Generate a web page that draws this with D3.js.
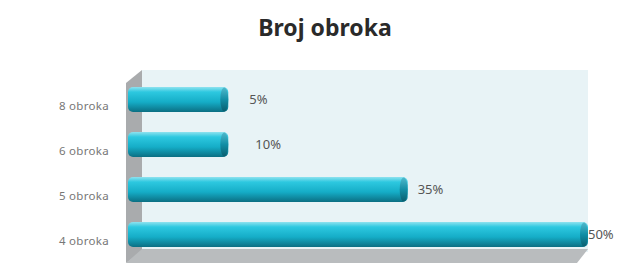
<!DOCTYPE html>
<html>
<head>
<meta charset="utf-8">
<script src="https://cdn.jsdelivr.net/npm/d3@7"></script>
<style>
  body { margin: 0; background: #fff; }
  svg { display: block; }
</style>
</head>
<body>
<svg width="622" height="273"></svg>
<script>
// data
var categories = ["8 obroka", "6 obroka", "5 obroka", "4 obroka"];
var labels = ["5%", "10%", "35%", "50%"];
// bar lengths as drawn in the original (they don't follow the labels exactly)
var barValues = [10.9, 10.9, 30.4, 50];

var svg = d3.select("svg");

var x = d3.scaleLinear().domain([0, 50]).range([128, 588]);
var y = d3.scaleBand().domain(categories).range([77, 257])
    .paddingInner(0.444).paddingOuter(0.222);

var defs = svg.append("defs");
var grad = defs.append("linearGradient")
    .attr("id", "barGrad")
    .attr("x1", 0).attr("y1", 0).attr("x2", 0).attr("y2", 1);
grad.append("stop").attr("offset", "0%").attr("stop-color", "#8fe2ef");
grad.append("stop").attr("offset", "20%").attr("stop-color", "#2dc8e0");
grad.append("stop").attr("offset", "60%").attr("stop-color", "#15adc7");
grad.append("stop").attr("offset", "100%").attr("stop-color", "#0b6f83");

var capGrad = defs.append("linearGradient")
    .attr("id", "capGrad")
    .attr("x1", 0).attr("y1", 0).attr("x2", 0).attr("y2", 1);
capGrad.append("stop").attr("offset", "0%").attr("stop-color", "#4fb9cc");
capGrad.append("stop").attr("offset", "50%").attr("stop-color", "#128ea5");
capGrad.append("stop").attr("offset", "100%").attr("stop-color", "#095e6f");

// title
svg.append("text")
    .attr("x", 325).attr("y", 36)
    .attr("text-anchor", "middle")
    .attr("font-family", "Noto Sans, sans-serif")
    .attr("font-weight", "bold")
    .attr("font-size", 23)
    .attr("fill", "#2a2a2a")
    .text("Broj obroka");

// back wall
var x0 = x(0), x1 = x(50);
svg.append("rect")
    .attr("x", 142).attr("y", 70)
    .attr("width", x1 - 142).attr("height", 182)
    .attr("fill", "#e8f3f6");

// left wall
svg.append("path")
    .attr("d", "M126,83 L142,70 L142,252 L126,263 Z")
    .attr("fill", "#a9abad");

// floor
svg.append("path")
    .attr("d", "M126,263 L142,249 L" + x1 + ",249 L" + (x1 - 11) + ",263 Z")
    .attr("fill", "#b9bcbe");

// bars
var g = svg.append("g");
var bars = g.selectAll(".bar")
    .data(categories)
    .enter().append("g")
    .attr("class", "bar");

bars.append("rect")
    .attr("x", x0)
    .attr("y", function (d) { return y(d); })
    .attr("width", function (d, i) { return x(barValues[i]) - x0; })
    .attr("height", y.bandwidth())
    .attr("rx", 5)
    .attr("fill", "url(#barGrad)");

bars.append("ellipse")
    .attr("cx", function (d, i) { return x(barValues[i]) - 4; })
    .attr("cy", function (d) { return y(d) + y.bandwidth() / 2; })
    .attr("rx", 4)
    .attr("ry", y.bandwidth() / 2 - 0.5)
    .attr("fill", "url(#capGrad)");

// value labels
var labelOffset = [21, 27, 10, 0];
g.selectAll(".val")
    .data(categories)
    .enter().append("text")
    .attr("class", "val")
    .attr("x", function (d, i) { return x(barValues[i]) + labelOffset[i]; })
    .attr("y", function (d) { return y(d) + y.bandwidth() / 2 + 4.5; })
    .attr("font-family", "Noto Sans, sans-serif")
    .attr("font-size", 13)
    .attr("fill", "#555")
    .text(function (d, i) { return labels[i]; });

// category axis labels
g.selectAll(".cat")
    .data(categories)
    .enter().append("text")
    .attr("class", "cat")
    .attr("x", 109)
    .attr("y", function (d) { return y(d) + y.bandwidth() / 2 + 10.5; })
    .attr("text-anchor", "end")
    .attr("font-family", "Noto Sans, sans-serif")
    .attr("font-size", 11.5)
    .attr("letter-spacing", "0.3")
    .attr("fill", "#777")
    .text(function (d) { return d; });
</script>
</body>
</html>
